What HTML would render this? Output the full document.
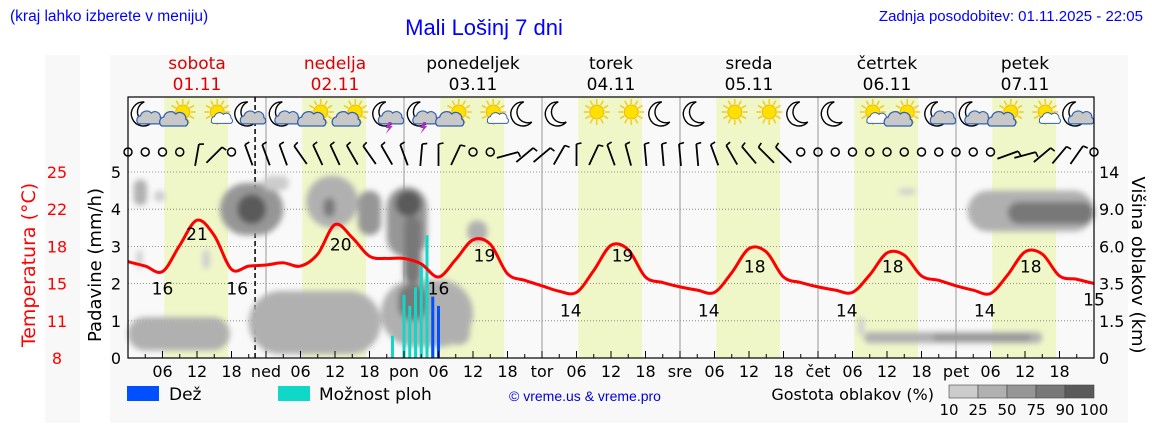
<!DOCTYPE html>
<html><head><meta charset="utf-8">
<style>
html,body{margin:0;padding:0;background:#fff;}
svg{display:block;font-family:"DejaVu Sans","Liberation Sans",sans-serif;}
</style></head>
<body>
<svg id="chart" width="1152" height="443" viewBox="0 0 1152 443" xmlns="http://www.w3.org/2000/svg">
<defs>
<filter id="blur" x="-20%" y="-20%" width="140%" height="140%"><feGaussianBlur stdDeviation="3"/></filter>
</defs>
<rect x="45" y="55" width="35" height="368" fill="#f8f8f8"/>
<rect x="110" y="55" width="1018" height="368" fill="#f8f8f8"/>
<text x="10" y="21" font-family="Liberation Sans, sans-serif" font-size="15.5" fill="#0000ff">(kraj lahko izberete v meniju)</text>
<text x="484" y="35" text-anchor="middle" font-family="Liberation Sans, sans-serif" font-size="22" fill="#0000ff">Mali Lošinj 7 dni</text>
<text x="1143" y="21" text-anchor="end" font-family="Liberation Sans, sans-serif" font-size="15" fill="#0000ff">Zadnja posodobitev: 01.11.2025 - 22:05</text>
<g id="bands"></g>
<g id="grid"></g>
<g id="clouds" filter="url(#blur)"></g>
<g id="precip"></g>
<g id="temp"></g>
<g id="icons"></g>
<g id="wind"></g>
<g id="axes"></g>
<g id="legend"></g>
</svg>
<script>
// ---- data ----
const dayNames = ['sobota','nedelja','ponedeljek','torek','sreda','četrtek','petek'];
const dayDates = ['01.11','02.11','03.11','04.11','05.11','06.11','07.11'];
const dayAbbr = ['','ned','pon','tor','sre','čet','pet'];
const tempValues = [16.8,16.4,15.9,18.3,20.6,19.2,16.1,16.4,
 16.5,16.7,16.4,17.5,20.2,19.0,17.3,17.1,
 17.1,16.6,15.4,17.0,18.8,18.4,15.7,15.1,
 14.6,14.1,14.0,16.0,18.3,17.9,15.4,14.9,
 14.5,14.2,14.0,15.8,18.0,17.7,15.4,14.9,
 14.5,14.2,14.0,15.6,17.6,17.4,15.5,15.1,
 14.6,14.2,13.9,15.6,17.7,17.5,15.5,15.2,14.8];
const labelHours = [6,12,19,37,54,62,77,86,101,109,125,133,149,157,168];
const labelValues = [16,21,16,20,16,19,14,19,14,18,14,18,14,18,15];
const showerHours = [46,48,49,50,51,52,53];
const showerValues = [0.6,1.7,1.4,1.9,2.5,3.3,0.5];
const rainHours = [53,54];
const rainValues = [1.65,1.4];
const iconTypes = ['mc','sc','ss','mc','mc','sc','sc','mt','mt','sc','ss','m','m','s','s','m','m','s','s','m','m','ss','sc','mc','mc','sc','ss','mc'];
const windAngles = [null,null,null,null,10,45,null,-20,
 -20,-20,-35,-25,-25,-30,-35,-30,
 -20,5,0,25,null,null,75,50,
 50,30,0,25,-20,-15,-5,-5,
 -5,-5,-20,-30,-40,-45,-45,null,
 null,null,null,null,null,null,null,null,
 null,null,null,70,75,50,40,35,null];
const cloudStart = [1,4.5,1.5,13,16,19,23.5,0,21,44,47,31,34,40,45,46.5,48,59,55.5,134,146,153,128,140,127];
const cloudEnd   = [3.3,6.5,2.5,14.2,27,24,28,17.7,44,60,52,40,36,44,52,51,51,62.5,59.5,137,168,168,159,157,128];
const cloudLow   = [4.1,4.2,2.4,2.4,3.3,3.6,4.5,0.2,0.1,0.3,1.0,3.5,3.8,3.3,2.7,3.8,2.0,3.1,0.35,4.4,3.4,3.6,0.4,0.45,0.6];
const cloudHigh  = [4.8,4.5,2.9,2.9,4.7,4.4,4.9,1.1,1.8,2.1,2.0,4.9,4.3,4.5,4.6,4.5,3.8,3.7,1.6,4.55,4.5,4.2,0.7,0.65,1.1];
const cloudLevel = [2,1,1,1,3,5,1,2,2,2,4,2,4,3,3,5,4,2,2,1,2,4,2,3,1];
const precipTicks = [0,1,2,3,4,5];
const tempTicks = [25,22,18,15,11,8];
const heightTicks = ['14','9.0','6.0','3.5','1.5','0'];
const densityLabels = ['10','25','50','75','90','100'];

// ---- geometry ----
const X0=128, DAYW=138, YB=358, YT=172, TOP=97;
const xH = h => X0 + h*DAYW/24;
const yP = v => YB - v*(YB-YT)/5;
const yT = t => YB - (t-8)*(YB-YT)/17;
const NS='http://www.w3.org/2000/svg';
function el(tag, attrs, parent, text){
  const e=document.createElementNS(NS,tag);
  for(const k in attrs) e.setAttribute(k,attrs[k]);
  if(text!==undefined) e.textContent=text;
  parent.appendChild(e); return e;
}
const gray=['#ffffff','#cccccc','#b0b0b0','#969696','#787878','#5a5a5a'];

const bands=document.getElementById('bands');
const bg=el('rect',{x:X0,y:TOP,width:DAYW*7,height:YB-TOP,fill:'#f9f9f9'},bands);


for(let d=0;d<7;d++){
  const r=el('rect',{x:xH(d*24+6.3),y:TOP,width:xH(17.4)-xH(6.3),height:YB-TOP,fill:'#eff7c9'},bands);
  
  
  const c=(d<2)?'#dd0000':'#000';
  const t1=el('text',{x:xH(d*24+12),y:69,'text-anchor':'middle','font-size':17,fill:c},bands,dayNames[d]);
  
  
  const t2=el('text',{x:xH(d*24+12),y:90,'text-anchor':'middle','font-size':17,fill:c},bands,dayDates[d]);
  
  
}
const grid=document.getElementById('grid');
for(let v=1;v<=5;v++){
  const l=el('line',{x1:X0,x2:xH(168),y1:yP(v),y2:yP(v),stroke:'#777','stroke-width':0.8,'stroke-dasharray':'1,2'},grid);
  
  
}
for(let d=1;d<7;d++){
  const l=el('line',{x1:xH(d*24),x2:xH(d*24),y1:TOP,y2:YB,stroke:'#999','stroke-width':1},grid);
  
  
}
const clouds=document.getElementById('clouds');
for(let i=0;i<cloudStart.length;i++){
  const x=xH(cloudStart[i]), w=xH(cloudEnd[i])-x, y=yP(cloudHigh[i]), h=yP(cloudLow[i])-y;
  const r=el('rect',{x:x,y:y,width:w,height:h,rx:Math.min(w,h)/2,fill:gray[cloudLevel[i]]},clouds);
  
  
}
const precip=document.getElementById('precip');
showerHours.forEach((h,i)=>{
  const r=el('rect',{x:xH(h)-1.5,y:yP(showerValues[i]),width:3,height:YB-yP(showerValues[i]),fill:'#10d8c8'},precip);
  
  
});
rainHours.forEach((h,i)=>{
  const r=el('rect',{x:xH(h)-1.5,y:yP(rainValues[i]),width:3,height:YB-yP(rainValues[i]),fill:'#0050ff'},precip);
  
  
});
const nowL=el('line',{x1:xH(22.1),x2:xH(22.1),y1:TOP,y2:YB,stroke:'#000','stroke-width':1.5,'stroke-dasharray':'5,3'},grid);


const temp=document.getElementById('temp');
const pts=tempValues.map((t,i)=>[xH(i*3),yT(t)]);
let d='M'+pts[0][0]+','+pts[0][1];
for(let i=0;i<pts.length-1;i++){
  const p0=pts[Math.max(0,i-1)],p1=pts[i],p2=pts[i+1],p3=pts[Math.min(pts.length-1,i+2)];
  const c1=[p1[0]+(p2[0]-p0[0])/6,p1[1]+(p2[1]-p0[1])/6];
  const c2=[p2[0]-(p3[0]-p1[0])/6,p2[1]-(p3[1]-p1[1])/6];
  d+=` C${c1[0]},${c1[1]} ${c2[0]},${c2[1]} ${p2[0]},${p2[1]}`;
}
const tl=el('path',{d:d,fill:'none',stroke:'#ff0000','stroke-width':3,'stroke-linejoin':'round'},temp);


labelHours.forEach((h,i)=>{
  const t=el('text',{x:xH(h),y:yT(labelValues[i])+24,'text-anchor':'middle','font-size':17,fill:'#000'},temp,String(labelValues[i]));
  
  
});
const icons=document.getElementById('icons');
function cloudShape(g,cx,cy,s,fill){
  el('path',{d:`M${cx-13*s},${cy+6*s} a5 5 0 0 1 2,-9 a7 7 0 0 1 12,-3 a6 6 0 0 1 10,5 a4 4 0 0 1 0,7 z`,fill:fill,stroke:'#3060b0','stroke-width':1.3,transform:`translate(${cx},${cy}) scale(${s}) translate(${-cx},${-cy})`},g);
}
function sun(g,cx,cy){
  for(let a=0;a<360;a+=30){const r=Math.PI*a/180;
    el('line',{x1:cx+8*Math.cos(r),y1:cy+8*Math.sin(r),x2:cx+13*Math.cos(r),y2:cy+13*Math.sin(r),stroke:'#f0d020','stroke-width':1.6},g);}
  el('circle',{cx:cx,cy:cy,r:7,fill:'#ffe000',stroke:'#f0b800','stroke-width':1},g);
}
function moon(g,cx,cy){
  el('path',{d:`M${cx+2},${cy-12} a12 12 0 1 0 8,20 a10 10 0 1 1 -8,-20 z`,fill:'#fff',stroke:'#000','stroke-width':1.4},g);
}
iconTypes.forEach((t,i)=>{
  const g=el('g',{},icons);
  
  
  const cx=xH(3+6*i), cy=116;
  if(t[0]==='m') moon(g,cx-3,cy-2); else sun(g,cx+3,cy-4);
  if(t==='mc'||t==='mt') cloudShape(g,cx+4,cy+3,0.9,'#c8c8c8');
  if(t==='mt') el('path',{d:`M${cx+2},${cy+6} l-3,6 h3 l-3,6 l7,-8 h-3 l2,-4 z`,fill:'#b030c0'},g);
  if(t==='sc') cloudShape(g,cx-5,cy+4,1,'#c8c8c8');
  if(t==='ss') cloudShape(g,cx+6,cy+4,0.75,'#fff');
});
const wind=document.getElementById('wind');
windAngles.forEach((a,i)=>{
  const cx=xH(i*3), cy=152;
  if(a===null){
    const c=el('circle',{cx:cx,cy:cy,r:4,fill:'none',stroke:'#000','stroke-width':1.5},wind);
    
    
  } else {
    const g=el('g',{transform:`translate(${cx},${cy+3}) rotate(${a})`},wind);
    
    
    el('line',{x1:0,y1:-11,x2:0,y2:11,stroke:'#000','stroke-width':1.8},g);
    el('line',{x1:0,y1:-11,x2:5,y2:-12,stroke:'#000','stroke-width':1.6},g);
  }
});
const axes=document.getElementById('axes');
const frame=el('rect',{x:X0,y:TOP,width:DAYW*7,height:YB-TOP,fill:'none',stroke:'#000','stroke-width':1.2},axes);


for(let h=3;h<168;h+=3){
  const len=(h%6===0)?7:4;
  const t=el('line',{x1:xH(h),x2:xH(h),y1:YB,y2:YB-len,stroke:'#000','stroke-width':1},axes);
  
  
}
for(let d=0;d<7;d++){
  [[0,dayAbbr[d]],[6,'06'],[12,'12'],[18,'18']].forEach(([h,s])=>{
    if(!s) return;
    const t=el('text',{x:xH(d*24+h),y:377,'text-anchor':'middle','font-size':16,fill:'#000'},axes,s);
    
    
  });
}
precipTicks.forEach(v=>{
  const t=el('text',{x:121,y:yP(v)+6,'text-anchor':'end','font-size':16,fill:'#000'},axes,String(v));
  
  
});
tempTicks.forEach((v,i)=>{
  const t=el('text',{x:57,y:yP(5-i)+6,'text-anchor':'middle','font-size':16,fill:'#ff0000'},axes,String(v));
  
  
});
heightTicks.forEach((v,i)=>{
  const t=el('text',{x:1099,y:yP(5-i)+6,'font-size':16,fill:'#000'},axes,v);
  
  
});
const pt=el('text',{transform:'translate(101,265) rotate(-90)','text-anchor':'middle','font-size':18,fill:'#000'},axes,'Padavine (mm/h)');


const tt=el('text',{transform:'translate(35,265) rotate(-90)','text-anchor':'middle','font-size':19,fill:'#ff0000'},axes,'Temperatura (°C)');


const ht=el('text',{transform:'translate(1132,265) rotate(90)','text-anchor':'middle','font-size':18,fill:'#000'},axes,'Višina oblakov (km)');


const lg=document.getElementById('legend');
const r1=el('rect',{x:127,y:386,width:32,height:15,fill:'#0050ff'},lg);


const l1=el('text',{x:169,y:400,'font-size':17,fill:'#000'},lg,'Dež');


const r2=el('rect',{x:278,y:386,width:32,height:15,fill:'#10d8c8'},lg);


const l2=el('text',{x:319,y:400,'font-size':17,fill:'#000'},lg,'Možnost ploh');


const cr=el('text',{x:585,y:401,'text-anchor':'middle','font-family':'Liberation Sans, sans-serif','font-size':14,fill:'#0000dd'},lg,'© vreme.us & vreme.pro');


const gl=el('text',{x:934,y:400,'text-anchor':'end','font-size':16,fill:'#000'},lg,'Gostota oblakov (%)');


for(let i=0;i<5;i++){
  const s=el('rect',{x:949+i*29,y:385,width:29,height:13,fill:gray[i+1],stroke:'#444','stroke-width':0.6},lg);
  
  
}
densityLabels.forEach((s,i)=>{
  const t=el('text',{x:949+i*29,y:415,'text-anchor':'middle','font-size':15,fill:'#000'},lg,s);
  
  
});
</script>
</body></html>
